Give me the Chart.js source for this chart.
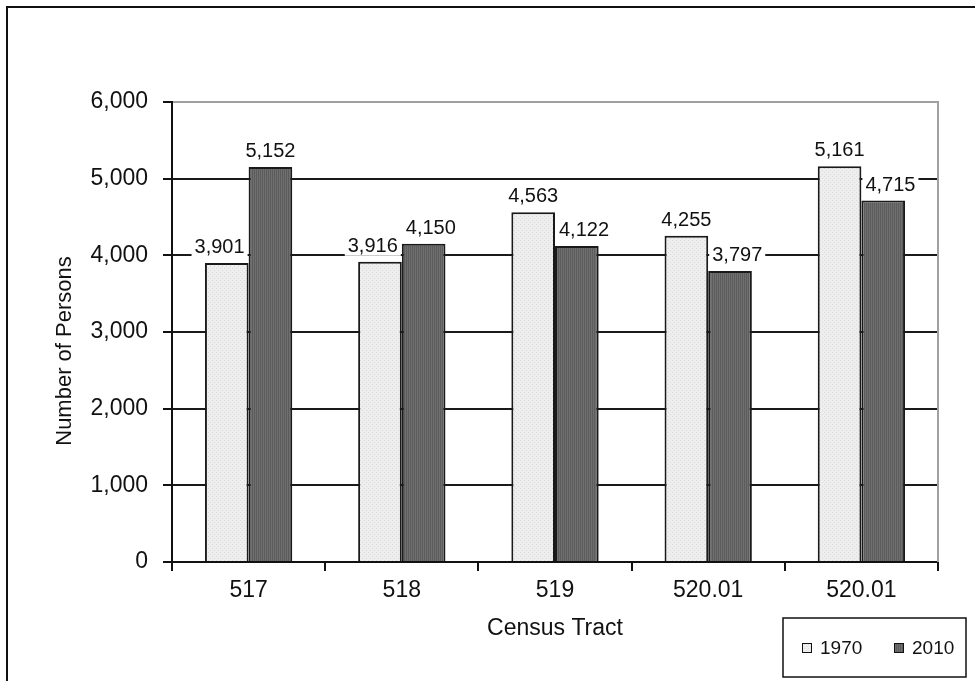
<!DOCTYPE html>
<html>
<head>
<meta charset="utf-8">
<title>Census Tract population</title>
<script src="https://cdn.jsdelivr.net/npm/chart.js@4.4.0/dist/chart.umd.min.js"></script>
<style>
    html, body { margin: 0; padding: 0; background: #fff; }
    canvas { display: block; }
</style>
</head>
<body>
<canvas id="graph" width="975" height="681"></canvas>
<script>
// chart data
const tracts = ['517', '518', '519', '520.01', '520.01'];
const seriesNames = ['1970', '2010'];
const persons1970 = [3901, 3916, 4563, 4255, 5161];
const persons2010 = [5152, 4150, 4122, 3797, 4715];
const yTicks = [0, 1000, 2000, 3000, 4000, 5000, 6000];

const FONT = '"Liberation Sans", Arial, sans-serif';
const canvas = document.getElementById('graph');
const ctx = canvas.getContext('2d');

// small textured fills, like the old spreadsheet bars
function makePattern(base, mark, stripes) {
    const c = document.createElement('canvas');
    c.width = 4;
    c.height = 4;
    const p = c.getContext('2d');
    p.fillStyle = base;
    p.fillRect(0, 0, 4, 4);
    p.fillStyle = mark;
    if (stripes) {
        p.fillRect(0, 0, 1, 4);
        p.fillRect(2, 0, 1, 4);
    } else {
        p.fillRect(0, 0, 1, 1);
        p.fillRect(2, 2, 1, 1);
    }
    return ctx.createPattern(c, 'repeat');
}

const lightFill = makePattern('#eeeeee', '#dadada', false);
const darkFill = makePattern('#6f6f6f', '#5c5c5c', true);

// work out where each value label goes, keeping it off the other bar and the other label
function labelSpots(chart) {
    const c = chart.ctx;
    c.font = '20px ' + FONT;
    const spots = [];
    const m0 = chart.getDatasetMeta(0).data;
    const m1 = chart.getDatasetMeta(1).data;
    for (let j = 0; j < m0.length; j++) {
        const t0 = persons1970[j].toLocaleString('en-US');
        const t1 = persons2010[j].toLocaleString('en-US');
        const w0 = c.measureText(t0).width;
        const w1 = c.measureText(t1).width;
        let x0 = m0[j].x;
        let x1 = m1[j].x;
        const y0 = m0[j].y - 10;
        const y1 = m1[j].y - 10;

        // two labels at almost the same height
        const need = (w0 + w1) / 2 + 8;
        if (Math.abs(y0 - y1) < 22 && x1 - x0 < need) {
            const push = (need - (x1 - x0)) / 2;
            x0 -= push;
            x1 += push;
        }

        // label sits lower than the neighbour bar top
        const left1 = m1[j].x - m1[j].width / 2;
        if (y0 > m1[j].y - 2 && x0 + w0 / 2 > left1 - 4) {
            x0 = left1 - 4 - w0 / 2;
        }
        const right0 = m0[j].x + m0[j].width / 2;
        if (y1 > m0[j].y - 2 && x1 - w1 / 2 < right0 + 4) {
            x1 = right0 + 4 + w1 / 2;
        }

        spots.push({ txt: t0, x: x0, y: y0, w: w0 });
        spots.push({ txt: t1, x: x1, y: y1, w: w1 });
    }
    return spots;
}

// frame, right border, y title, value labels and legend box
const extrasPlugin = {
    id: 'extras',
    beforeDraw(chart) {
        const c = chart.ctx;
        c.save();
        c.fillStyle = '#fff';
        c.fillRect(0, 0, chart.width, chart.height);
        c.strokeStyle = '#111';
        c.lineWidth = 2;
        c.strokeRect(7, 7, chart.width + 20, chart.height + 20);
        c.restore();
    },
    beforeDatasetsDraw(chart) {
        // white patch behind labels cuts the grid lines, bars stay on top
        const c = chart.ctx;
        c.save();
        c.fillStyle = '#fff';
        labelSpots(chart).forEach(function(s) {
            c.fillRect(s.x - s.w / 2 - 3, s.y - 17, s.w + 6, 21);
        });
        c.restore();
    },
    afterDraw(chart) {
        const c = chart.ctx;
        const area = chart.chartArea;
        c.save();

        // right border of plot area
        c.strokeStyle = '#a0a0a0';
        c.lineWidth = 2;
        c.beginPath();
        c.moveTo(area.right, area.top - 1);
        c.lineTo(area.right, area.bottom);
        c.stroke();

        // y axis title
        c.fillStyle = '#111';
        c.font = '22px ' + FONT;
        c.textAlign = 'center';
        c.textBaseline = 'middle';
        c.translate(65, 351);
        c.rotate(-Math.PI / 2);
        c.fillText('Number of Persons', 0, 0);
        c.restore();

        // value labels
        c.save();
        c.font = '20px ' + FONT;
        c.textAlign = 'center';
        c.textBaseline = 'alphabetic';
        c.fillStyle = '#111';
        labelSpots(chart).forEach(function(s) {
            c.fillText(s.txt, s.x, s.y);
        });
        c.restore();

        // legend box
        c.save();
        c.strokeStyle = '#111';
        c.lineWidth = 1.5;
        c.strokeRect(783, 618, 183, 59);
        c.font = '19px ' + FONT;
        c.textBaseline = 'middle';
        c.textAlign = 'left';
        const itemX = [802, 894];
        chart.data.datasets.forEach(function(ds, i) {
            c.fillStyle = ds.backgroundColor;
            c.fillRect(itemX[i], 643, 10, 10);
            c.strokeStyle = '#111';
            c.lineWidth = 1;
            c.strokeRect(itemX[i] + 0.5, 643.5, 9, 9);
            c.fillStyle = '#111';
            c.fillText(ds.label, itemX[i] + 18, 649);
        });
        c.restore();
    }
};

function initChart() {
    if (window.chartx) {
        window.chartx.destroy();
    }

    window.chartx = new Chart(ctx, {
        type: 'bar',
        data: {
            labels: tracts,
            datasets: [{
                label: seriesNames[0],
                data: persons1970,
                backgroundColor: lightFill,
                borderColor: '#1a1a1a',
                borderWidth: 2,
            }, {
                label: seriesNames[1],
                data: persons2010,
                backgroundColor: darkFill,
                borderColor: '#1a1a1a',
                borderWidth: 2,
            }],
        },
        options: {
            responsive: false,
            animation: false,
            devicePixelRatio: 1,
            layout: {
                padding: { top: 102, right: 37, left: 0, bottom: 0 }
            },
            datasets: {
                bar: {
                    categoryPercentage: 0.57,
                    barPercentage: 1.0,
                }
            },
            plugins: {
                legend: { display: false },
                tooltip: { enabled: false },
            },
            scales: {
                x: {
                    grid: {
                        offset: true,
                        drawOnChartArea: false,
                        color: '#111',
                        tickColor: '#111',
                        tickLength: 9,
                        lineWidth: 2,
                    },
                    border: { color: '#111', width: 2 },
                    ticks: {
                        color: '#111',
                        font: { family: FONT, size: 23 },
                        padding: 6,
                        maxRotation: 0,
                        autoSkip: false,
                    },
                    title: {
                        display: true,
                        text: 'Census Tract',
                        color: '#111',
                        font: { family: FONT, size: 23 },
                        padding: { top: 0, bottom: 39 },
                    },
                    afterFit: function(scale) {
                        scale.height = 119;
                    },
                },
                y: {
                    min: 0,
                    max: 6000,
                    afterBuildTicks: function(scale) {
                        scale.ticks = yTicks.map(function(v) { return { value: v }; });
                    },
                    grid: {
                        color: function(c) {
                            return c.tick && c.tick.value === 6000 ? '#a0a0a0' : '#1a1a1a';
                        },
                        tickColor: '#111',
                        tickLength: 9,
                        lineWidth: 2,
                    },
                    border: { color: '#111', width: 2 },
                    ticks: {
                        color: '#111',
                        font: { family: FONT, size: 23 },
                        padding: 15,
                        callback: function(v) { return Number(v).toLocaleString('en-US'); },
                    },
                    afterFit: function(scale) {
                        scale.width = 172;
                    },
                },
            },
        },
        plugins: [extrasPlugin],
    });
}

initChart();
</script>
</body>
</html>
